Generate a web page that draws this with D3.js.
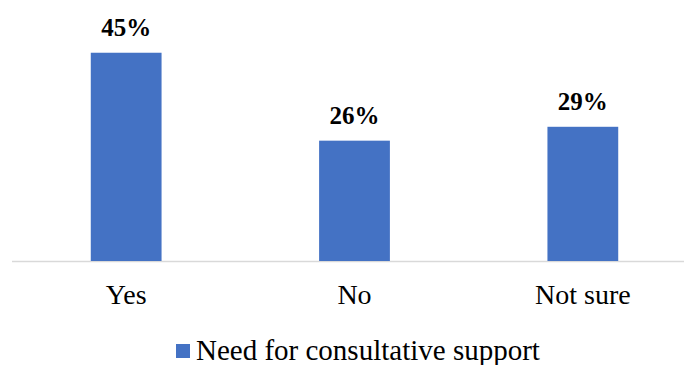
<!DOCTYPE html>
<html>
<head>
<meta charset="utf-8">
<script src="https://cdn.jsdelivr.net/npm/d3@7"></script>
<style>
  html, body { margin: 0; padding: 0; background: #fff; }
  svg { display: block; font-family: "Liberation Serif", serif; }
</style>
</head>
<body>
<svg id="chart" width="684" height="365"></svg>
<script>
const categories = ["Yes", "No", "Not sure"];
const values = [45, 26, 29];
const valueLabels = ["45%", "26%", "29%"];
const seriesName = "Need for consultative support";

const fontStack = '"Liberation Serif", serif';
const svg = d3.select("#chart");
const baseY = 261;

const x = d3.scaleBand()
  .domain(categories)
  .range([12, 697])
  .paddingInner(0.69)
  .paddingOuter(0.345);

const y = d3.scaleLinear()
  .domain([0, 50])
  .range([baseY, baseY - 231.4]);

// baseline axis
svg.append("line")
  .attr("x1", 12).attr("x2", 684)
  .attr("y1", baseY + 0.5).attr("y2", baseY + 0.5)
  .attr("stroke", "#d9d9d9")
  .attr("stroke-width", 1.5);

// bars
svg.selectAll("rect.bar")
  .data(values)
  .join("rect")
  .attr("class", "bar")
  .attr("x", (d, i) => x(categories[i]))
  .attr("width", x.bandwidth())
  .attr("y", d => y(d))
  .attr("height", d => y(0) - y(d))
  .attr("fill", "#4472c4");

// value labels
svg.selectAll("text.val")
  .data(values)
  .join("text")
  .attr("class", "val")
  .attr("x", (d, i) => x(categories[i]) + x.bandwidth() / 2)
  .attr("y", d => y(d) - 17)
  .attr("text-anchor", "middle")
  .style("font-family", fontStack)
  .style("font-weight", "bold")
  .style("font-size", "25px")
  .attr("fill", "#000")
  .text((d, i) => valueLabels[i]);

// category labels
svg.selectAll("text.cat")
  .data(categories)
  .join("text")
  .attr("class", "cat")
  .attr("x", d => x(d) + x.bandwidth() / 2)
  .attr("y", 304)
  .attr("text-anchor", "middle")
  .style("font-family", fontStack)
  .style("font-size", "28px")
  .attr("fill", "#000")
  .text(d => d);

// legend
svg.append("rect")
  .attr("x", 176).attr("y", 344)
  .attr("width", 14).attr("height", 14)
  .attr("fill", "#4472c4");
svg.append("text")
  .attr("x", 196).attr("y", 360)
  .style("font-family", fontStack)
  .style("font-size", "29px")
  .attr("fill", "#000")
  .text(seriesName);
</script>
</body>
</html>
